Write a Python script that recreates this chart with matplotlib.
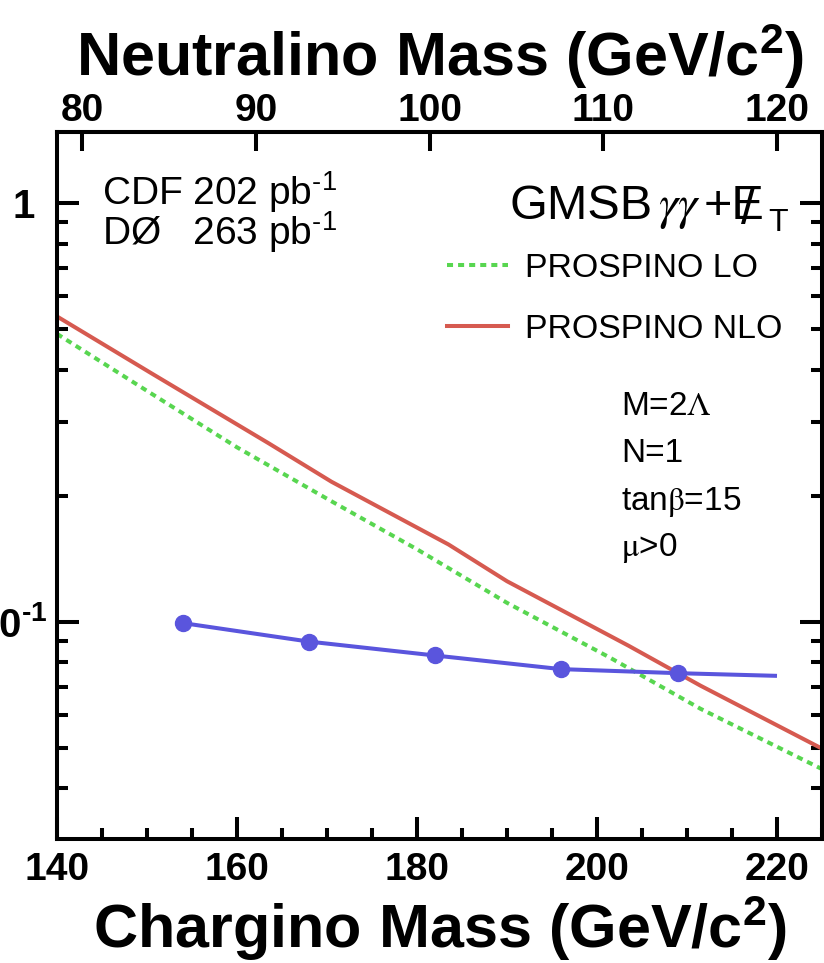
"""GMSB gamma-gamma + MET: combined CDF/D0 cross-section limit vs chargino mass."""
import matplotlib

matplotlib.use("Agg")
import matplotlib.pyplot as plt  # noqa: E402
from matplotlib.ticker import LogLocator, MultipleLocator, NullFormatter, NullLocator  # noqa: E402
from matplotlib.transforms import ScaledTranslation  # noqa: E402

plt.rcParams["font.family"] = ["Liberation Sans", "DejaVu Sans"]
plt.rcParams["mathtext.fontset"] = "custom"
plt.rcParams["mathtext.rm"] = "Liberation Sans"
plt.rcParams["mathtext.it"] = "Liberation Sans:italic"
plt.rcParams["mathtext.bf"] = "Liberation Sans:bold"

# PROSPINO NLO / LO cross sections (pb) vs chargino mass (GeV/c^2)
nlo_mass = [140, 150.5, 163.5, 170.5, 183.5, 190, 203.5, 211.5, 225]
nlo_xsec = [0.536, 0.392, 0.267, 0.216, 0.153, 0.125, 0.0877, 0.0704, 0.0498]
lo_mass = [140, 150, 160, 170.5, 180, 190, 201.5, 211.5, 225]
lo_xsec = [0.487, 0.356, 0.261, 0.194, 0.149, 0.111, 0.082, 0.062, 0.0445]

# combined 95% C.L. limit
limit_mass = [154, 168, 182, 196, 209, 220]
limit_xsec = [0.0993, 0.0897, 0.0831, 0.0771, 0.0754, 0.0743]
n_points = 5  # the last entry only continues the curve

# neutralino <-> chargino mass scale of the top axis (two read-off anchors)
neut_anchor = (80.0, 120.0)
charg_anchor = (142.8, 220.0)
neut_ticks = [80, 90, 100, 110, 120]
charg_ticks = [140, 160, 180, 200, 220]

RED, GREEN, BLUE = "#d65a50", "#58d650", "#5a55dd"
LW = 2.9
HY = "\u2010"  # ROOT draws a short hyphen in the exponents


def c2n(c):
    k = (neut_anchor[1] - neut_anchor[0]) / (charg_anchor[1] - charg_anchor[0])
    return neut_anchor[0] + (c - charg_anchor[0]) * k


def n2c(n):
    k = (charg_anchor[1] - charg_anchor[0]) / (neut_anchor[1] - neut_anchor[0])
    return charg_anchor[0] + (n - neut_anchor[0]) * k


W, H = 824, 963
fig = plt.figure(figsize=(W / 100, H / 100), dpi=100)
ax = fig.add_axes([57 / W, 1 - 839 / H, (822 - 57) / W, (839 - 131.7) / H])
ax.set_yscale("log")
ax.set_xlim(140, 225)
ax.set_ylim(0.0303, 1.48)

ax.plot(lo_mass, lo_xsec, color=GREEN, lw=LW, ls=(0, (1.5, 1.25)), label="PROSPINO LO")
ax.plot(nlo_mass, nlo_xsec, color=RED, lw=LW, label="PROSPINO NLO")
ax.plot(limit_mass, limit_xsec, color=BLUE, lw=LW, solid_capstyle="butt")
ax.plot(limit_mass[:n_points], limit_xsec[:n_points], "o", color=BLUE, ms=11.5)

for s in ax.spines.values():
    s.set_linewidth(LW)

ax.set_xticks(charg_ticks, labels=[str(t) for t in charg_ticks], fontweight="bold", fontsize=28)
ax.xaxis.set_minor_locator(MultipleLocator(5))
ax.set_yticks([0.1, 1], labels=[r"$\mathbf{10^{%s1}}$" % HY, "1"], fontweight="bold", fontsize=29)
ax.yaxis.set_minor_locator(LogLocator(subs=range(2, 10)))
ax.yaxis.set_minor_formatter(NullFormatter())
ax.tick_params(which="both", direction="in", top=False, right=True, width=LW)
ax.tick_params(which="major", length=15.8)
ax.tick_params(which="minor", length=7.9)
ax.tick_params(axis="x", pad=9)
ax.tick_params(axis="y", pad=7)
one = ax.get_yticklabels()[1]
one.set_transform(one.get_transform() + ScaledTranslation(-0.12, 0, fig.dpi_scale_trans))

ax.set_xlabel(r"Chargino Mass (GeV/c$^{\mathbf{2}}$)", fontsize=44, fontweight="bold", labelpad=4)

sec = ax.secondary_xaxis("top", functions=(c2n, n2c))
sec.set_xticks(neut_ticks, labels=[str(t) for t in neut_ticks], fontweight="bold", fontsize=28)
sec.xaxis.set_minor_locator(NullLocator())
sec.tick_params(direction="in", length=14, width=LW, pad=2)
sec.spines["top"].set_linewidth(LW)
sec.set_xlabel(r"Neutralino Mass (GeV/c$^{\mathbf{2}}$)", fontsize=44, fontweight="bold", labelpad=12)


# annotations (pixel positions of the reference, baseline aligned)
def put(x, y, s, size, **kw):
    return fig.text(x / W, 1 - y / H, s, fontsize=size, va="baseline", ha="left", **kw)


put(102, 205, r"CDF 202 pb$^{%s1}$" % HY, 28)
put(102, 245, r"DØ   263 pb$^{%s1}$" % HY, 28)

put(509, 219, "GMSB", 35)
put(658, 219, r"$\gamma\gamma$", 35, math_fontfamily="stix")
put(704, 219, "+E", 35)
put(741, 224, "/", 37)
put(768, 231, "T", 23)

put(621, 415, r"M=2$\Lambda$", 24, math_fontfamily="stix")
put(621, 462, "N=1", 24)
put(621, 510, r"tan$\mathrm{\beta}$=15", 24, math_fontfamily="stix")
put(621, 556, r"$\mathrm{\mu}$>0", 24, math_fontfamily="stix")

ax.legend(loc="upper left", bbox_to_anchor=(447 / W, 1 - 253 / H), bbox_transform=fig.transFigure,
          frameon=False, fontsize=24.4, handlelength=1.8, handletextpad=0.5,
          labelspacing=0.88, borderpad=0, borderaxespad=0)

fig.savefig("out.png", dpi=100)
